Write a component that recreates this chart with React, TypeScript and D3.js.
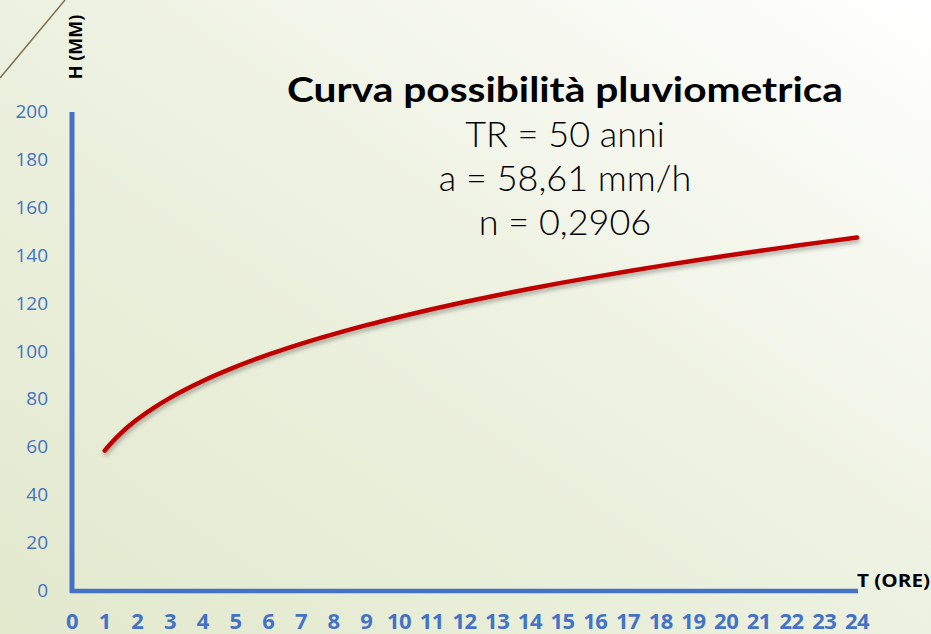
import React from "react";
import * as d3 from "d3";

const hours = [1, 1.25, 1.5, 1.75, 2, 2.5, 3, 3.5, 4, 5, 6, 7, 8, 9, 10, 11, 12, 13, 14, 15, 16, 17, 18, 19, 20, 21, 22, 23, 24];
const heights = [58.61, 62.54, 65.94, 68.96, 71.69, 76.49, 80.65, 84.35, 87.68, 93.56, 98.65, 103.17, 107.24, 110.99, 114.43, 117.65, 120.66, 123.5, 126.19, 128.75, 131.17, 133.52, 135.75, 137.9, 139.97, 141.98, 143.9, 145.78, 147.57];
const xTicks = d3.range(0, 25);
const yTicks = [0, 20, 40, 60, 80, 100, 120, 140, 160, 180, 200];
const titleLines = ["TR = 50 anni", "a = 58,61 mm/h", "n = 0,2906"];

const W = 931, H = 634;
const BLUE = "#4472c4";

export default function App() {
  const x = d3.scaleLinear().domain([0, 24]).range([72, 857]);
  const y = d3.scaleLinear().domain([0, 200]).range([591, 112]);
  const pts = hours.map((h, i) => [h, heights[i]] as [number, number]);
  const line = d3.line<[number, number]>().x(d => x(d[0])).y(d => y(d[1])).curve(d3.curveMonotoneX);
  const font = "Lato, 'Open Sans', 'DejaVu Sans', sans-serif";
  const tickFont = "'Open Sans', sans-serif";
  return (
    <svg width={W} height={H} style={{ position: "absolute", left: 0, top: 0 }}>
      <defs>
        <linearGradient id="bg" x1="0" y1="1" x2="1" y2="0">
          <stop offset="0" stopColor="#e2e9cd" />
          <stop offset="0.55" stopColor="#eef2e2" />
          <stop offset="1" stopColor="#ffffff" />
        </linearGradient>
        <filter id="sh" x="-10%" y="-10%" width="120%" height="130%">
          <feDropShadow dx="1" dy="3" stdDeviation="2" floodColor="#000" floodOpacity="0.3" />
        </filter>
      </defs>
      <rect width={W} height={H} fill="url(#bg)" />
      <line x1={0} y1={78} x2={65} y2={0} stroke="#7d7258" strokeWidth={1.5} />
      {/* axes */}
      <line x1={x(0)} y1={y(200)} x2={x(0)} y2={y(0) + 2} stroke={BLUE} strokeWidth={5} />
      <line x1={x(0) - 2} y1={y(0)} x2={x(24) + 1} y2={y(0)} stroke={BLUE} strokeWidth={4.5} />
      {yTicks.map(t => (
        <text key={t} x={48} y={y(t) + 6} textAnchor="end" fill={BLUE} fontSize={19} fontFamily={tickFont}>{t}</text>
      ))}
      {xTicks.map(t => (
        <text key={t} x={x(t)} y={629} textAnchor="middle" fill={BLUE} fontSize={22} fontWeight="bold" fontFamily={tickFont} letterSpacing={-0.5}>{t}</text>
      ))}
      <text transform={`translate(82,47) rotate(-90)`} textAnchor="middle" fontSize={18} fontWeight="bold" fontFamily={tickFont} fill="#000">H (MM)</text>
      <text x={857} y={587} fontSize={18} fontWeight="bold" fontFamily={tickFont} fill="#000" textLength={73} lengthAdjust="spacingAndGlyphs">T (ORE)</text>
      <path d={line(pts) || ""} fill="none" stroke="#c00000" strokeWidth={4.5} strokeLinecap="round" filter="url(#sh)" />
      <text x={565} y={102} textAnchor="middle" fontSize={34} fontWeight="bold" fontFamily={font} fill="#000" textLength={556} lengthAdjust="spacingAndGlyphs">Curva possibilità pluviometrica</text>
      {titleLines.map((l, i) => (
        <text key={l} x={565} y={147 + i * 44} textAnchor="middle" fontSize={36} fontWeight={300} fontFamily={font} fill="#000">{l}</text>
      ))}
    </svg>
  );
}
